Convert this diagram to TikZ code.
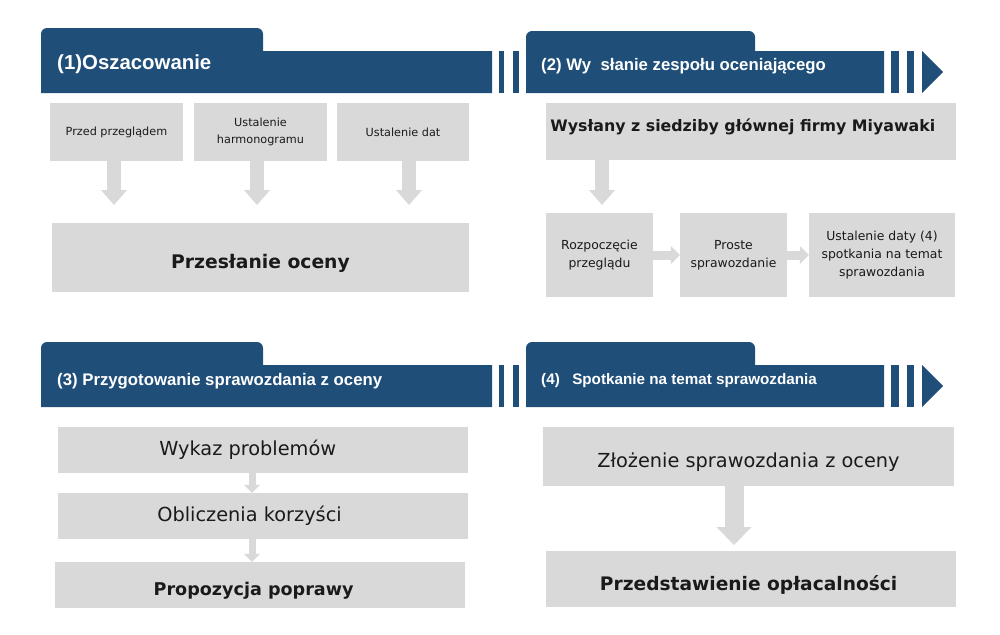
\documentclass[tikz,border=0pt]{standalone}
\usepackage{fontspec}
\setmainfont{DejaVu Sans}
\newfontfamily\headfont{Liberation Sans}
\usetikzlibrary{arrows.meta}
\definecolor{headerblue}{HTML}{1F4E79}
\definecolor{boxgray}{HTML}{D9D9D9}
\definecolor{arrowgray}{HTML}{D9D9D9}
\definecolor{textdark}{HTML}{1A1A1A}
\tikzset{
  header/.style={
    anchor=west,
    inner sep=0pt,
    text=white,
  },
  header big/.style={
    header,
    font=\headfont\bfseries\fontsize{17.4}{20}\selectfont,
  },
  header small/.style={
    header,
    font=\headfont\bfseries\fontsize{14.3}{17}\selectfont,
  },
  stepbox/.style={
    rectangle,
    inner sep=0pt,
    fill=boxgray,
    text=textdark,
    align=center,
  },
  boxsize/.style 2 args={
    minimum width=#1*0.3mm,
    minimum height=#2*0.3mm,
  },
  small text/.style={
    stepbox,
    font=\fontsize{9.6}{14.5}\selectfont,
  },
  review text/.style={
    stepbox,
    font=\fontsize{10.6}{15.4}\selectfont,
  },
  large text/.style={
    stepbox,
    font=\fontsize{16.5}{20}\selectfont,
  },
  bold text/.style={
    stepbox,
    font=\bfseries\fontsize{15}{18}\selectfont,
  },
  % caps sit a little below the middle of the box
  low text/.style={
    text height=#1,
    text depth=0pt,
  },
  nudge left/.style={
    execute at begin node={\hspace*{-#1}},
  },
  wide arrow/.style={
    draw=arrowgray,
    line width=4.2mm,
    -{Triangle[length=4.5mm,width=7.8mm,line width=0pt]},
  },
  flat arrow/.style={
    draw=arrowgray,
    line width=2.7mm,
    -{Triangle[length=2.7mm,width=5.4mm,line width=0pt]},
  },
  thin arrow/.style={
    draw=arrowgray,
    line width=2.1mm,
    -{Triangle[length=2.4mm,width=4.8mm,line width=0pt]},
  },
  big arrow/.style={
    draw=arrowgray,
    line width=5.7mm,
    -{Triangle[length=5.4mm,width=10.5mm,line width=0pt]},
  },
}

\begin{document}
\begin{tikzpicture}[x=0.3mm,y=-0.3mm]
  \useasboundingbox (0,0) rectangle (1000,634);

  % Left header bars: tab, bar and two stripes.
  \foreach \tabtop/\bartop/\barbot in {28/51/93, 342/365/407}{
    \fill[headerblue] (41,\barbot) [rounded corners=1.8mm] -- (41,\tabtop) -- (263,\tabtop)
      [sharp corners] -- (263,\bartop) -- (492,\bartop) -- (492,\barbot) -- cycle;
    \fill[headerblue] (499,\bartop) rectangle (504,\barbot);
    \fill[headerblue] (513,\bartop) rectangle (519,\barbot);
  }

  % Right header bars: tab, bar, two stripes and the closing triangle.
  \foreach \tabtop/\bartop/\barbot/\barmid in {31/51/93/72, 342/365/407/386}{
    \fill[headerblue] (526,\barbot) [rounded corners=1.8mm] -- (526,\tabtop) -- (755,\tabtop)
      [sharp corners] -- (755,\bartop) -- (884,\bartop) -- (884,\barbot) -- cycle;
    \fill[headerblue] (891,\bartop) rectangle (899,\barbot);
    \fill[headerblue] (907,\bartop) rectangle (914,\barbot);
    \fill[headerblue] (922,\bartop) -- (943,\barmid) -- (922,\barbot) -- cycle;
  }

  % Header titles.
  \node[header big] (h1) at (57,64) {(1)Oszacowanie};
  \node[header small] (h2) at (541,66) {(2) Wy\hspace{4pt} słanie zespołu oceniającego};
  \node[header small] (h3) at (57,381) {(3) Przygotowanie sprawozdania z oceny};
  \node[header small, font=\headfont\bfseries\fontsize{13}{16}\selectfont] (h4) at (541,381) {(4)\hspace{7pt} Spotkanie na temat sprawozdania};

  % Step (1): three preparations lead to the evaluation.
  \node[small text, boxsize={133}{58}] (before) at (116.5,132) {Przed przeglądem};
  \node[small text, boxsize={133}{58}] (schedule) at (260.5,132) {Ustalenie\\harmonogramu};
  \node[small text, boxsize={132}{58}] (dates) at (403,132) {Ustalenie dat};
  \node[bold text, low text=19pt, boxsize={417}{69}, font=\bfseries\fontsize{16}{19}\selectfont] (evaluation) at (260.5,257.5) {Przesłanie oceny};

  \coordinate (tipa) at (114,205);
  \coordinate (tipb) at (257,205);
  \coordinate (tipc) at (409,205);
  \draw[wide arrow] (before.south -| tipa) -- (tipa);
  \draw[wide arrow] (schedule.south -| tipb) -- (tipb);
  \draw[wide arrow] (dates.south -| tipc) -- (tipc);

  % Step (2): the team is sent and reviews.
  \node[bold text, boxsize={410}{57}, text height=5pt, text depth=5pt, nudge left=14pt,
    font=\bfseries\fontsize{13.5}{16}\selectfont] (office) at (751,131.5) {Wysłany z siedziby głównej firmy Miyawaki};
  \node[review text, boxsize={107}{84}] (review) at (599.5,255) {Rozpoczęcie\\przeglądu};
  \node[review text, boxsize={107}{84}] (brief) at (733.5,255) {Proste\\sprawozdanie};
  \node[review text, boxsize={146}{84}] (meeting) at (882,255) {Ustalenie daty (4)\\spotkania na temat\\sprawozdania};

  \coordinate (tipd) at (602,205);
  \draw[wide arrow] (office.south -| tipd) -- (tipd);
  \draw[flat arrow] (review.east) -- (brief.west);
  \draw[flat arrow] (brief.east) -- (meeting.west);

  % Step (3): building the report.
  \node[large text, boxsize={410}{46}, nudge left=26pt] (problems) at (263,450) {Wykaz problemów};
  \node[large text, boxsize={410}{46}, nudge left=23pt] (benefits) at (263,516) {Obliczenia korzyści};
  \node[bold text, low text=17.8pt, boxsize={410}{46}, nudge left=11pt] (proposal) at (260,585) {Propozycja poprawy};

  \coordinate (col) at (252,0);
  \draw[thin arrow] (problems.south -| col) -- (benefits.north -| col);
  \draw[thin arrow] (benefits.south -| col) -- (proposal.north -| col);

  % Step (4): the report meeting.
  \node[large text, low text=18.8pt, boxsize={411}{59}] (submit) at (748.5,456.5) {Złożenie sprawozdania z oceny};
  \node[bold text, low text=20pt, boxsize={410}{56}, nudge left=4pt, font=\bfseries\fontsize{15.9}{19}\selectfont] (profit) at (751,579) {Przedstawienie opłacalności};

  \coordinate (tipe) at (734,545);
  \draw[big arrow] (submit.south -| tipe) -- (tipe);
\end{tikzpicture}
\end{document}
